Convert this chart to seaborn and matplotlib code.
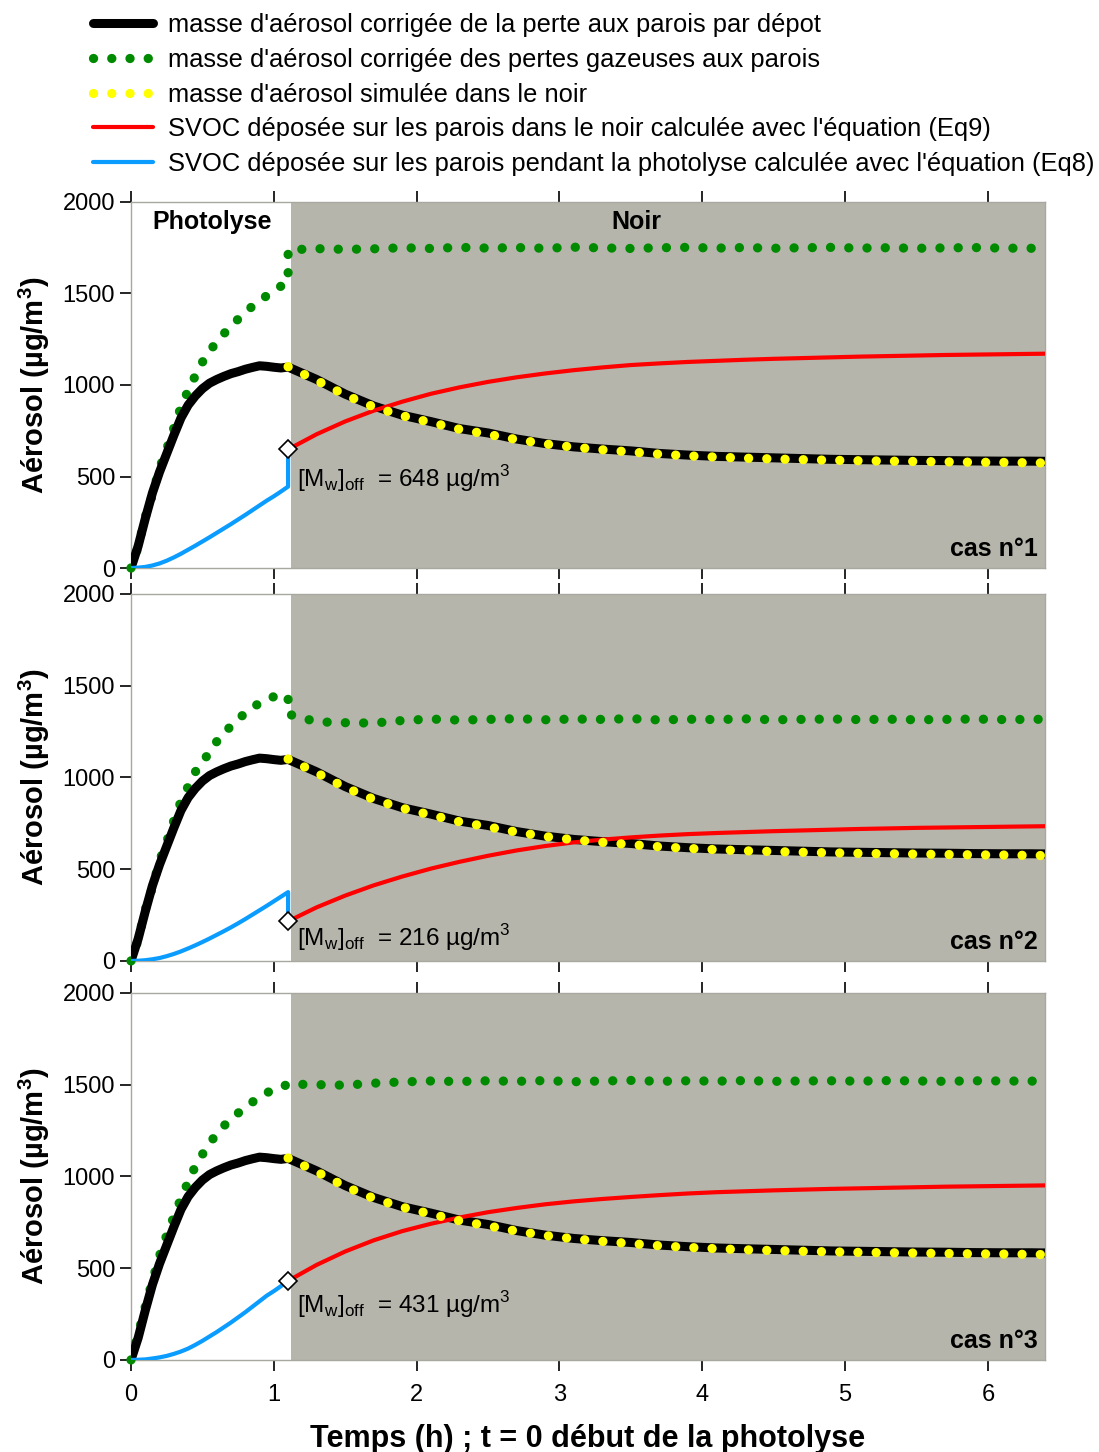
import numpy as np
import seaborn as sns
import matplotlib.pyplot as plt
from matplotlib.lines import Line2D

# time grids (h) : photolysis then dark period, lights off at 1.1 h
t_photo = np.round(np.arange(0, 1.1001, 0.05), 2)
t_dark = np.round(np.append(np.arange(1.1, 6.31, 0.2), 6.4), 2)
t_off = 1.1

# aerosol mass corrected for particle wall deposition (same for the 3 cases)
black_photo = [0, 120, 270, 410, 525, 625, 725, 820, 890, 940, 980, 1010, 1030, 1047, 1062,
               1073, 1086, 1096, 1105, 1102, 1097, 1093, 1098]
black_dark = [1098, 1030, 950, 885, 835, 800, 762, 738, 705, 680, 662, 650, 640, 626, 617,
              610, 606, 602, 598, 594, 592, 590, 588, 587, 585, 584, 584, 583]
# aerosol mass simulated in the dark
yellow_dark = [1100, 1025, 945, 880, 832, 795, 758, 730, 702, 678, 660, 646, 634, 622, 613,
               606, 600, 596, 592, 589, 586, 584, 582, 580, 578, 577, 575, 574]

# aerosol mass corrected for gas wall losses, case 1..3
green_photo = [
    [0, 115, 280, 400, 546, 650, 765, 880, 970, 1050, 1125, 1185, 1235, 1280, 1320,
     1360, 1398, 1430, 1458, 1488, 1515, 1540, 1560],
    [0, 115, 280, 400, 546, 650, 765, 870, 950, 1030, 1080, 1140, 1195, 1240, 1280,
     1318, 1350, 1380, 1405, 1425, 1440, 1445, 1442],
    [0, 140, 290, 430, 568, 680, 780, 880, 970, 1055, 1120, 1180, 1232, 1275, 1312,
     1345, 1375, 1405, 1430, 1455, 1475, 1490, 1500],
]
green_dark = [
    [1738, 1745, 1741, 1744, 1750, 1746, 1752, 1748, 1751, 1747, 1753, 1749, 1746, 1750,
     1752, 1748, 1751, 1747, 1750, 1752, 1748, 1750, 1747, 1749, 1751, 1748, 1747, 1748],
    [1345, 1303, 1298, 1296, 1310, 1318, 1312, 1316, 1320, 1314, 1318, 1316, 1320, 1313,
     1317, 1315, 1319, 1314, 1316, 1318, 1315, 1317, 1314, 1316, 1318, 1315, 1316, 1317],
    [1503, 1500, 1497, 1508, 1515, 1520, 1517, 1521, 1518, 1522, 1516, 1520, 1523, 1518,
     1521, 1519, 1522, 1518, 1520, 1521, 1519, 1522, 1520, 1518, 1521, 1520, 1519, 1521],
]

# SVOC on walls during photolysis (Eq8)
blue_photo = [
    [0, 2, 6, 14, 25, 40, 58, 78, 100, 122, 145, 168, 192, 216, 240, 265, 290, 316, 342,
     368, 392, 418, 445],
    [0, 1, 4, 9, 16, 26, 38, 52, 68, 85, 103, 122, 142, 162, 183, 205, 228, 252, 276,
     300, 325, 350, 375],
    [0, 1, 3, 8, 14, 22, 33, 46, 62, 82, 104, 128, 152, 178, 204, 232, 260, 290, 320,
     350, 375, 402, 431],
]
mw_off = [648, 216, 431]

# SVOC on walls in the dark (Eq9)
red_dark = [
    [648, 731, 801, 860, 909, 952, 987, 1017, 1042, 1063, 1081, 1096, 1109, 1118, 1126,
     1132, 1138, 1143, 1147, 1151, 1155, 1158, 1161, 1164, 1166, 1168, 1170, 1171],
    [216, 292, 356, 412, 460, 503, 540, 573, 602, 626, 646, 661, 673, 683, 691,
     697, 702, 707, 711, 715, 719, 722, 725, 727, 729, 731, 733, 734],
    [431, 518, 591, 652, 702, 742, 776, 805, 828, 848, 864, 877, 888, 898, 907,
     914, 919, 924, 928, 932, 935, 938, 941, 944, 946, 948, 950, 951],
]

cases = ["cas n°1", "cas n°2", "cas n°3"]
legend_labels = [
    "masse d'aérosol corrigée de la perte aux parois par dépot",
    "masse d'aérosol corrigée des pertes gazeuses aux parois",
    "masse d'aérosol simulée dans le noir",
    "SVOC déposée sur les parois dans le noir calculée avec l'équation (Eq9)",
    "SVOC déposée sur les parois pendant la photolyse calculée avec l'équation (Eq8)",
]

sns.set_style("ticks")
plt.rcParams['font.family'] = ['Liberation Sans', 'DejaVu Sans']
plt.rcParams['mathtext.fontset'] = 'custom'
plt.rcParams['mathtext.rm'] = 'Liberation Sans'
plt.rcParams['mathtext.bf'] = 'Liberation Sans:bold'
plt.rcParams['text.color'] = 'black'
plt.rcParams['axes.labelcolor'] = 'black'
plt.rcParams['xtick.color'] = 'black'
plt.rcParams['ytick.color'] = 'black'

GREY = "#b5b5ab"
dots = (0, (0.01, 1.95))
dot_kw = dict(lw=6.7, linestyle=dots, dash_capstyle='round')

fig = plt.figure(figsize=(10.99, 14.52), dpi=100)
boxes = [[0.1192, 0.6088, 0.8317, 0.2521],
         [0.1192, 0.3382, 0.8317, 0.2528],
         [0.1192, 0.0634, 0.8317, 0.2528]]
text_y = [490, 130, 300]

axes = []
for i in range(3):
    ax = fig.add_axes(boxes[i])
    axes.append(ax)
    ax.axvspan(1.12, 6.4, color=GREY, lw=0, zorder=0)

    green_t = list(t_photo) + list(t_dark)
    green_v = green_photo[i] + green_dark[i]
    sns.lineplot(x=green_t, y=green_v, ax=ax, estimator=None, sort=False,
                 color="#008a00", zorder=3, clip_on=False, **dot_kw)

    black_t = list(t_photo) + list(t_dark)
    black_v = black_photo + black_dark
    sns.lineplot(x=black_t, y=black_v, ax=ax, estimator=None, sort=False,
                 color="black", lw=6.5, solid_capstyle='butt', zorder=4)

    sns.lineplot(x=t_dark, y=red_dark[i], ax=ax, estimator=None, sort=False,
                 color="#ff0000", lw=3, zorder=5)

    blue_t = list(t_photo) + [t_off]
    blue_v = blue_photo[i] + [mw_off[i]]
    sns.lineplot(x=blue_t, y=blue_v, ax=ax, estimator=None, sort=False,
                 color="#0a9cff", lw=3, zorder=5)

    sns.lineplot(x=t_dark, y=yellow_dark, ax=ax, estimator=None, sort=False,
                 color="#ffff00", zorder=6, **dot_kw)

    ax.plot(t_off, mw_off[i], marker='D', ms=9, mfc='white', mec='black', mew=1.2,
            zorder=7)
    ax.text(1.16, text_y[i],
            r"[M$_\mathrm{w}$]$_\mathrm{off}$  = %d µg/m$^3$" % mw_off[i],
            fontsize=17.5, va='center', ha='left', zorder=8)
    ax.text(0.992, 0.02, cases[i], transform=ax.transAxes, ha='right', va='bottom',
            fontsize=18, fontweight='bold')

    ax.set_xlim(0, 6.4)
    ax.set_ylim(0, 2000)
    ax.set_xticks(range(7))
    ax.set_yticks([0, 500, 1000, 1500, 2000])
    ax.tick_params(axis='both', direction='out', length=8, width=1.2, labelsize=17,
                   top=True)
    ax.tick_params(axis='x', labelbottom=(i == 2), pad=9)
    for s in ax.spines.values():
        s.set_color("#a8a8a0")
        s.set_linewidth(1)
    ax.set_ylabel(r"Aérosol (µg/m$^\mathbf{3}$)", fontsize=21, fontweight='bold')
    ax.yaxis.set_label_coords(-0.086, 0.5)
    ax.set_xlabel("")

axes[0].text(0.57, 1890, "Photolyse", fontsize=18, fontweight='bold', ha='center',
             va='center')
axes[0].text(3.54, 1890, "Noir", fontsize=18, fontweight='bold', ha='center',
             va='center')
axes[2].set_xlabel("Temps (h) ; t = 0 début de la photolyse", fontsize=22,
                   fontweight='bold', labelpad=13)

handles = [
    Line2D([], [], color="black", lw=6.5),
    Line2D([], [], color="#008a00", **dot_kw),
    Line2D([], [], color="#ffff00", **dot_kw),
    Line2D([], [], color="#ff0000", lw=3),
    Line2D([], [], color="#0a9cff", lw=3),
]
fig.legend(handles, legend_labels, loc='upper left', bbox_to_anchor=(0.075, 0.998),
           frameon=False, fontsize=18.4, handlelength=2.35, handletextpad=0.6,
           labelspacing=0.42, borderaxespad=0)

fig.savefig("out.png", dpi=100)
